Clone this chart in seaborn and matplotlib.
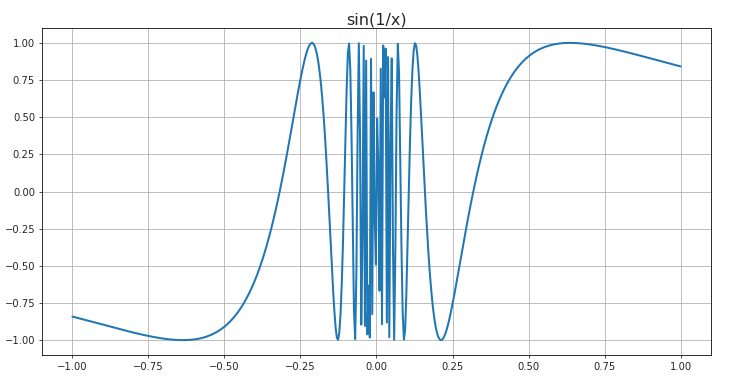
import numpy as np
import matplotlib
matplotlib.use('Agg')
import matplotlib.pyplot as plt
import seaborn as sns

# 采样范围和点数（图标题给出的函数 sin(1/x)）
x_start = -1.0
x_end = 1.0
n_points = 500
title = 'sin(1/x)'

x = np.linspace(x_start, x_end, n_points)
y = np.sin(1 / x)

sns.set_style('ticks', {'axes.grid': True, 'grid.color': '#b0b0b0', 'axes.edgecolor': 'black'})
plt.rcParams['font.family'] = ['DejaVu Sans']

fig = plt.figure(figsize=(7.32, 3.79), dpi=100)
ax = fig.add_axes([42 / 732, 24 / 379, 669 / 732, 327 / 379])
sns.lineplot(x=x, y=y, ax=ax, linewidth=1.45, color='#1f77b4')
ax.set_title(title, fontsize=11.5, pad=2.5)
ax.grid(True, linewidth=0.58, color='#b0b0b0')
ax.tick_params(labelsize=7.2, width=0.58, length=2.5, pad=2.5)
for s in ax.spines.values():
    s.set_linewidth(0.58)
ax.set_xticks([-1.0, -0.75, -0.5, -0.25, 0.0, 0.25, 0.5, 0.75, 1.0])
ax.set_yticks([-1.0, -0.75, -0.5, -0.25, 0.0, 0.25, 0.5, 0.75, 1.0])
ax.set_xlim(-1.1, 1.1)
ax.set_ylim(-1.1, 1.1)
fig.savefig('out.png', dpi=100)
